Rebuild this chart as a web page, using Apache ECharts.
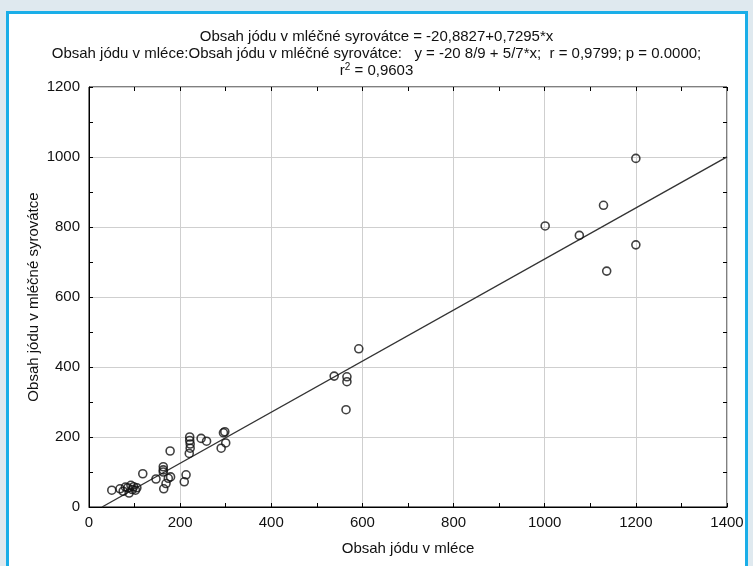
<!DOCTYPE html>
<html><head><meta charset="utf-8">
<script src="https://cdn.jsdelivr.net/npm/echarts@6/dist/echarts.min.js"></script>
<style>
html,body{margin:0;padding:0;width:753px;height:566px;background:#dfe9ef;overflow:hidden;}
#frame{position:absolute;left:6px;top:11px;width:736px;height:600px;border:3px solid #1aaee8;background:#fff;}
#chart{position:absolute;left:0;top:0;width:753px;height:566px;}
</style></head>
<body><div id="frame"></div><div id="chart"></div>
<script>
const xTicks = [0,200,400,600,800,1000,1200,1400];
const yTicks = [0,200,400,600,800,1000,1200];
const milk = [50,68,75,80,85,88,92,95,98,102,105,118,147,163,163,163,164,169,174,179,178,209,213,221,221,222,222,220,246,258,295,298,300,290,538,592,566,566,564,1001,1076,1129,1136,1200,1200];
const whey = [48,52,45,57,55,40,62,50,58,48,55,95,80,115,106,100,52,67,82,86,160,72,92,200,190,180,168,153,196,188,212,215,183,168,374,452,372,358,278,803,776,862,674,996,749];
const intercept = -20.8827, slope = 0.7295;
const titleLines = ['Obsah jódu v mléčné syrovátce = -20,8827+0,7295*x',
  'Obsah jódu v mléce:Obsah jódu v mléčné syrovátce:   y = -20 8/9 + 5/7*x;  r = 0,9799; p = 0.0000;',
  '{t|r}{s|2}{t| = 0,9603}'];
const xName = 'Obsah jódu v mléce', yName = 'Obsah jódu v mléčné syrovátce';

const pts = milk.map((v,i)=>[v, whey[i]]);
const x0 = -intercept/slope, x1 = xTicks[xTicks.length-1];
const fit = [[x0, intercept+slope*x0],[x1, intercept+slope*x1]];
const FONT = 'Liberation Sans, Arial, sans-serif';
const txt = {fontFamily: FONT, fontSize: 15, color:'#111', fontWeight:'normal'};
const chart = echarts.init(document.getElementById('chart'));
const plain = v => String(v);
const xMax = xTicks[xTicks.length-1], yMax = yTicks[yTicks.length-1];
function tickAxis(extra){
  return Object.assign({type:'value', min:0, interval:100,
    axisLine:{show:false,onZero:false}, axisLabel:{show:false}, splitLine:{show:false},
    axisTick:{show:true,inside:true,length:4,lineStyle:{color:'#000'}}}, extra);
}
chart.setOption({
  animation:false,
  title:[
    {text:titleLines[0], left:'center', top:24, textStyle:txt},
    {text:titleLines[1], left:'center', top:41, textStyle:txt},
    {text:titleLines[2], left:'center', top:57, textStyle:{rich:{t:Object.assign({},txt), s:Object.assign({},txt,{fontSize:10,verticalAlign:'top',padding:[0,0,7,0]})}}}
  ],
  grid:{left:89, top:87, width:638, height:420, show:true, borderColor:'#000', borderWidth:1},
  xAxis:[
    {type:'value', min:0, max:xMax, interval:200, name:xName, nameLocation:'middle', nameGap:34,
      nameMoveOverlap:false,
      nameTextStyle:txt, axisLabel:Object.assign({margin:8, formatter:plain},txt),
      axisLine:{show:true,onZero:false,lineStyle:{color:'#000',width:1}}, axisTick:{show:false},
      splitLine:{show:true,lineStyle:{color:'#cfcfcf',width:1}}},
    tickAxis({max:xMax, position:'bottom'}),
    tickAxis({max:xMax, position:'top'})
  ],
  yAxis:[
    {type:'value', min:0, max:yMax, interval:200, name:yName, nameLocation:'middle', nameGap:48,
      nameMoveOverlap:false,
      nameTextStyle:txt, axisLabel:Object.assign({margin:9, formatter:plain},txt),
      axisLine:{show:true,onZero:false,lineStyle:{color:'#000',width:1}}, axisTick:{show:false},
      splitLine:{show:true,lineStyle:{color:'#cfcfcf',width:1}}},
    tickAxis({max:yMax, position:'left'}),
    tickAxis({max:yMax, position:'right'})
  ],
  series:[
    {type:'line', data:fit, symbol:'none', lineStyle:{color:'#333',width:1.4}, z:2},
    {type:'scatter', data:pts, symbol:'circle', symbolSize:8,
      itemStyle:{color:'rgba(255,255,255,0)', borderColor:'#111', borderWidth:1.6}, z:3}
  ]
});
</script></body></html>
